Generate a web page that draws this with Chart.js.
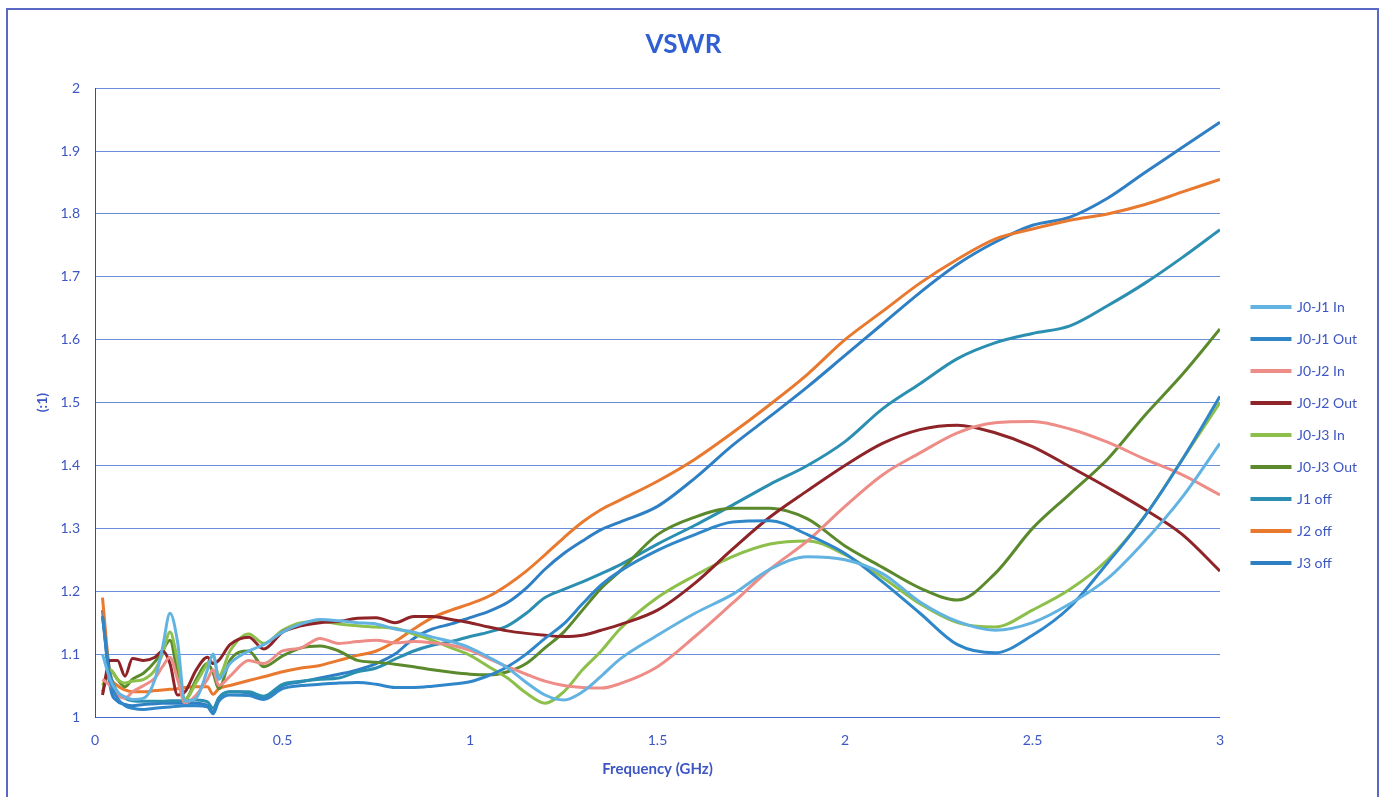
<!DOCTYPE html>
<html>
<head>
<meta charset="utf-8">
<script src="https://cdn.jsdelivr.net/npm/chart.js@4.4.0/dist/chart.umd.min.js"></script>
<style>
    html, body { margin: 0; padding: 0; background: #fff; overflow: hidden; }
    #wrap { width: 1385px; height: 797px; position: relative; }
</style>
</head>
<body>
<div id="wrap"><canvas id="vswrChart"></canvas></div>
<script>
// FREQUENCY POINTS (GHz)
const freqGHz = [0.02, 0.04, 0.06, 0.08, 0.1, 0.13, 0.16, 0.18, 0.2, 0.22, 0.24, 0.27, 0.3, 0.315, 0.33, 0.36, 0.41, 0.45,
    0.5, 0.55, 0.6, 0.65, 0.7, 0.75, 0.8, 0.85, 0.9, 0.95, 1.0, 1.05, 1.1, 1.15, 1.2, 1.25, 1.3, 1.35, 1.4,
    1.5, 1.6, 1.7, 1.8, 1.9, 2.0, 2.1, 2.2, 2.3, 2.4, 2.5, 2.6, 2.7, 2.8, 2.9, 3.0];

// VSWR VALUES (:1)
const j0j1In = [1.10, 1.06, 1.04, 1.032, 1.028, 1.03, 1.06, 1.11, 1.165, 1.12, 1.025, 1.03, 1.075, 1.10, 1.06, 1.085, 1.105, 1.115,
    1.135, 1.148, 1.155, 1.153, 1.15, 1.148, 1.14, 1.135, 1.127, 1.12, 1.11, 1.095, 1.078, 1.055, 1.035, 1.027, 1.04, 1.065, 1.092,
    1.13, 1.165, 1.195, 1.235, 1.255, 1.25, 1.228, 1.183, 1.152, 1.138, 1.15, 1.18, 1.22, 1.28, 1.35, 1.435];
const j0j1Out = [1.16, 1.06, 1.03, 1.018, 1.014, 1.012, 1.014, 1.015, 1.016, 1.017, 1.018, 1.018, 1.016, 1.005, 1.025, 1.035, 1.034, 1.028,
    1.045, 1.05, 1.052, 1.054, 1.055, 1.052, 1.047, 1.047, 1.049, 1.052, 1.056, 1.066, 1.08, 1.1, 1.125, 1.148, 1.18, 1.21, 1.232,
    1.265, 1.29, 1.31, 1.312, 1.29, 1.26, 1.215, 1.165, 1.115, 1.102, 1.13, 1.175, 1.245, 1.32, 1.41, 1.51];
const j0j2In = [1.06, 1.05, 1.035, 1.03, 1.04, 1.05, 1.062, 1.08, 1.095, 1.06, 1.022, 1.035, 1.06, 1.075, 1.05, 1.065, 1.09, 1.085,
    1.105, 1.11, 1.125, 1.117, 1.12, 1.122, 1.118, 1.12, 1.118, 1.114, 1.106, 1.093, 1.08, 1.068, 1.057, 1.05, 1.047, 1.046, 1.053,
    1.08, 1.128, 1.181, 1.235, 1.28, 1.335, 1.385, 1.42, 1.452, 1.468, 1.47, 1.458, 1.437, 1.41, 1.385, 1.353];
const j0j2Out = [1.035, 1.09, 1.09, 1.065, 1.093, 1.09, 1.095, 1.105, 1.085, 1.035, 1.04, 1.075, 1.095, 1.085, 1.09, 1.115, 1.127, 1.108,
    1.135, 1.145, 1.15, 1.152, 1.157, 1.158, 1.15, 1.16, 1.16, 1.155, 1.15, 1.143, 1.137, 1.133, 1.13, 1.128, 1.13, 1.138, 1.147,
    1.17, 1.213, 1.267, 1.318, 1.36, 1.40, 1.435, 1.457, 1.464, 1.452, 1.43, 1.398, 1.365, 1.33, 1.29, 1.232];
const j0j3In = [1.05, 1.075, 1.06, 1.054, 1.057, 1.06, 1.075, 1.10, 1.135, 1.09, 1.028, 1.055, 1.085, 1.098, 1.065, 1.105, 1.132, 1.117,
    1.138, 1.15, 1.152, 1.148, 1.145, 1.143, 1.141, 1.132, 1.122, 1.11, 1.098, 1.08, 1.062, 1.038, 1.022, 1.04, 1.075, 1.105, 1.14,
    1.19, 1.225, 1.255, 1.275, 1.28, 1.258, 1.222, 1.18, 1.15, 1.143, 1.17, 1.203, 1.25, 1.32, 1.41, 1.50];
const j0j3Out = [1.04, 1.075, 1.06, 1.048, 1.06, 1.07, 1.088, 1.105, 1.122, 1.07, 1.028, 1.06, 1.085, 1.07, 1.045, 1.09, 1.105, 1.08,
    1.097, 1.11, 1.113, 1.105, 1.09, 1.087, 1.084, 1.08, 1.075, 1.071, 1.068, 1.067, 1.072, 1.085, 1.11, 1.135, 1.17, 1.205, 1.232,
    1.29, 1.318, 1.332, 1.332, 1.315, 1.272, 1.238, 1.205, 1.186, 1.228, 1.3, 1.355, 1.41, 1.48, 1.545, 1.617];
const j1Off = [1.16, 1.07, 1.04, 1.03, 1.026, 1.025, 1.025, 1.025, 1.026, 1.026, 1.026, 1.027, 1.024, 1.014, 1.03, 1.04, 1.04, 1.033,
    1.052, 1.057, 1.06, 1.062, 1.072, 1.078, 1.092, 1.105, 1.114, 1.12, 1.128, 1.135, 1.145, 1.165, 1.19, 1.203, 1.215, 1.228, 1.242,
    1.275, 1.305, 1.337, 1.37, 1.40, 1.438, 1.49, 1.53, 1.57, 1.595, 1.61, 1.622, 1.654, 1.69, 1.731, 1.775];
const j2Off = [1.19, 1.07, 1.05, 1.043, 1.04, 1.04, 1.042, 1.043, 1.044, 1.045, 1.047, 1.048, 1.048, 1.036, 1.045, 1.05, 1.058, 1.064,
    1.072, 1.078, 1.082, 1.09, 1.098, 1.105, 1.12, 1.14, 1.158, 1.17, 1.18, 1.192, 1.21, 1.232, 1.258, 1.285, 1.31, 1.33, 1.345,
    1.375, 1.41, 1.452, 1.497, 1.545, 1.60, 1.645, 1.69, 1.728, 1.76, 1.776, 1.79, 1.80, 1.815, 1.835, 1.855];
const j3Off = [1.17, 1.05, 1.025, 1.02, 1.018, 1.02, 1.021, 1.022, 1.022, 1.022, 1.022, 1.022, 1.018, 1.008, 1.03, 1.04, 1.038, 1.03,
    1.05, 1.056, 1.062, 1.068, 1.075, 1.085, 1.1, 1.125, 1.14, 1.148, 1.158, 1.168, 1.182, 1.205, 1.235, 1.26, 1.28, 1.298, 1.31,
    1.335, 1.38, 1.432, 1.478, 1.525, 1.575, 1.625, 1.675, 1.72, 1.755, 1.782, 1.795, 1.825, 1.866, 1.906, 1.946];

const seriesNames = ['J0-J1 In', 'J0-J1 Out', 'J0-J2 In', 'J0-J2 Out', 'J0-J3 In', 'J0-J3 Out', 'J1 off', 'J2 off', 'J3 off'];
const seriesColors = ['#62b3e2', '#2f86c9', '#ee8d88', '#8e2428', '#8cc04b', '#5b8a2d', '#2b8fb1', '#e8792f', '#2f7fc4'];

// AXIS TICKS
const xTickValues = [0, 0.5, 1, 1.5, 2, 2.5, 3];
const xTickLabels = ['0', '0.5', '1', '1.5', '2', '2.5', '3'];
const yTickValues = [1, 1.1, 1.2, 1.3, 1.4, 1.5, 1.6, 1.7, 1.8, 1.9, 2];
const yTickLabels = ['1', '1.1', '1.2', '1.3', '1.4', '1.5', '1.6', '1.7', '1.8', '1.9', '2'];

const textBlue = '#3d56c4';
Chart.defaults.font.family = 'Lato, "Open Sans", sans-serif';

// OUTER FRAME
const framePlugin = {
    id: 'frame',
    beforeDraw(chart) {
        const c = chart.ctx;
        c.save();
        c.fillStyle = '#ffffff';
        c.fillRect(0, 0, chart.width, chart.height);
        c.strokeStyle = '#5a68c6';
        c.lineWidth = 2;
        c.strokeRect(7, 9, 1371, 820);
        c.restore();
    }
};

const allSeries = [j0j1In, j0j1Out, j0j2In, j0j2Out, j0j3In, j0j3Out, j1Off, j2Off, j3Off];

const ctx = document.getElementById('vswrChart');

const vswrChart = new Chart(ctx, {
    type: 'line',
    data: {
        datasets: allSeries.map((vals, i) => ({
            label: seriesNames[i],
            data: vals.map((v, k) => ({ x: freqGHz[k], y: v })),
            borderColor: seriesColors[i],
            backgroundColor: seriesColors[i],
            borderWidth: 3,
            pointRadius: 0,
            tension: 0.4,
            cubicInterpolationMode: 'monotone'
        }))
    },
    options: {
        responsive: true,
        maintainAspectRatio: false,
        animation: false,
        layout: { padding: { left: 0, right: 18, top: 0, bottom: 0 } },
        plugins: {
            title: {
                display: true,
                text: 'VSWR',
                color: '#2f5fd2',
                font: { size: 26, weight: 'bold' },
                padding: { top: 29, bottom: 28 }
            },
            legend: {
                position: 'right',
                fullSize: false,
                align: 'center',
                title: { display: true, text: ' ', font: { size: 13, lineHeight: 5 }, padding: 0 },
                labels: {
                    boxWidth: 38,
                    boxHeight: 1,
                    padding: 18,
                    color: textBlue,
                    font: { size: 14 }
                }
            },
            tooltip: { enabled: false }
        },
        scales: {
            x: {
                type: 'linear',
                min: 0,
                max: 3,
                afterBuildTicks: s => { s.ticks = xTickValues.map(v => ({ value: v })); },
                afterFit: s => { s.height = 80; },
                grid: { display: false, drawTicks: false },
                border: { color: '#4a6ad0', width: 1 },
                ticks: {
                    padding: 15,
                    color: textBlue,
                    font: { size: 14 },
                    maxRotation: 0,
                    autoSkip: false,
                    callback: (v, i) => xTickLabels[i]
                },
                title: {
                    display: true,
                    text: 'Frequency (GHz)',
                    color: textBlue,
                    font: { size: 15, weight: 'bold' },
                    padding: { top: 0, bottom: 19 }
                }
            },
            y: {
                min: 1,
                max: 2,
                afterBuildTicks: s => { s.ticks = yTickValues.map(v => ({ value: v })); },
                afterFit: s => { s.width = 95; },
                grid: { color: '#6a8edc', lineWidth: 1, drawTicks: false },
                border: { color: '#505050', width: 1 },
                ticks: {
                    padding: 15,
                    color: textBlue,
                    font: { size: 14 },
                    callback: (v, i) => yTickLabels[i]
                },
                title: {
                    display: true,
                    text: '(:1)',
                    color: textBlue,
                    font: { size: 14, weight: 'bold' },
                    padding: { top: 33.6, bottom: 0 }
                }
            },
            gap: {
                position: 'right',
                display: true,
                grid: { display: false, drawTicks: false },
                ticks: { display: false },
                border: { display: false },
                afterFit: s => { s.width = 14; }
            }
        }
    },
    plugins: [framePlugin]
});
</script>
</body>
</html>
